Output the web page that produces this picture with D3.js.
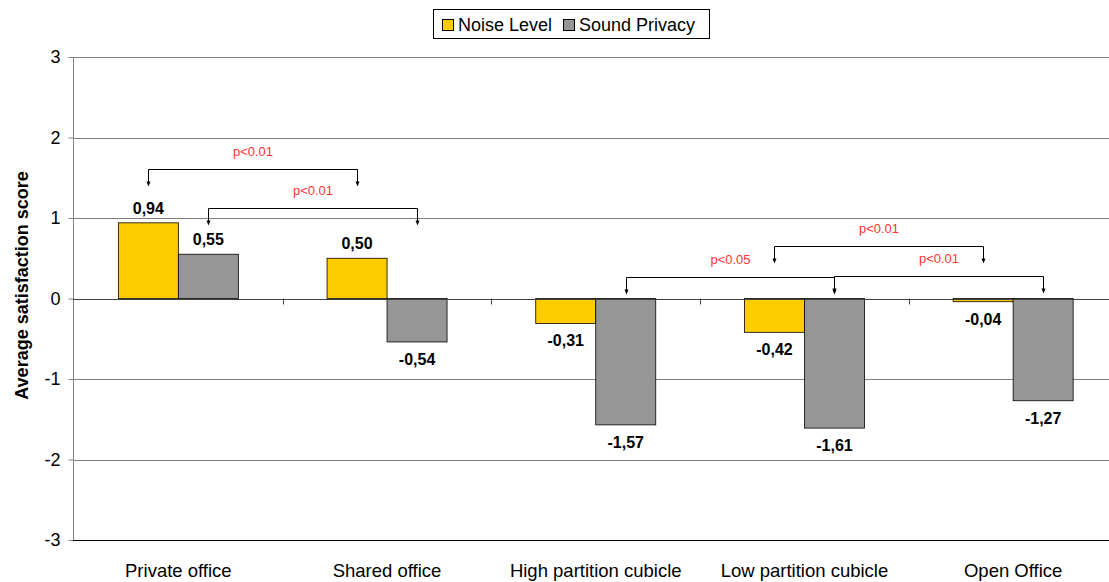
<!DOCTYPE html>
<html>
<head>
<meta charset="utf-8">
<script src="https://cdn.jsdelivr.net/npm/d3@7"></script>
<style>
  body { margin: 0; background: #fff; }
  text { font-family: Arial, "Liberation Sans", sans-serif; }
</style>
</head>
<body>
<div id="chart"></div>
<script>
// chart data
var categories = ["Private office", "Shared office", "High partition cubicle", "Low partition cubicle", "Open Office"];
var seriesNames = ["Noise Level", "Sound Privacy"];
var noiseLevel = [0.94, 0.50, -0.31, -0.42, -0.04];
var soundPrivacy = [0.55, -0.54, -1.57, -1.61, -1.27];
var yTicks = [3, 2, 1, 0, -1, -2, -3];
// significance brackets: [category, series] pairs, bracket height (score units), label
var brackets = [
    { from: [0, 0], to: [1, 0], level: 1.61, label: "p<0.01" },
    { from: [0, 1], to: [1, 1], level: 1.12, label: "p<0.01" },
    { from: [2, 1], to: [3, 1], level: 0.27, label: "p<0.05" },
    { from: [3, 0], to: [4, 0], level: 0.65, label: "p<0.01" },
    { from: [3, 1], to: [4, 1], level: 0.28, label: "p<0.01" }
];

(function () {
    var width = 1109,
        height = 582;
    var colors = ["#ffcc00", "#969696"];
    var left = 73, right = 1117, top = 57, bottom = 540;

    var svg = d3.select("#chart")
        .append("svg")
        .attr("width", width)
        .attr("height", height);

    var x = d3.scaleBand().domain(categories).range([left + 1, right + 0.5]).paddingInner(0);
    var y = d3.scaleLinear().domain([-3, 3]).range([bottom, top]);
    var barW = 60;
    var inner = d3.scaleBand().domain(seriesNames)
        .range([0, x.bandwidth()])
        .paddingOuter((x.bandwidth() - 2 * barW) / 2 / barW)
        .paddingInner(0);

    var values = [noiseLevel, soundPrivacy];
    var fmt = function (d) { return d3.format(".2f")(d).replace(".", ",").replace("\u2212", "-"); };

    // gridlines
    svg.append("g").selectAll("line")
        .data(yTicks.filter(function (d) { return d > -3; }))
        .enter().append("line")
        .attr("x1", left).attr("x2", right)
        .attr("y1", function (d) { return Math.round(y(d)) + 0.5; })
        .attr("y2", function (d) { return Math.round(y(d)) + 0.5; })
        .attr("stroke", "#808080")
        .attr("stroke-width", 1);

    // y axis
    var yAxis = svg.append("g")
        .attr("transform", "translate(" + (left + 0.5) + ",0)")
        .call(d3.axisLeft(y).tickValues(yTicks).tickSize(5).tickPadding(8)
            .tickFormat(function (d) { return String(d); }));
    yAxis.select(".domain").attr("stroke", "#808080").attr("d", "M0," + top + "V" + bottom);
    yAxis.selectAll(".tick line").attr("stroke", "#808080");
    yAxis.selectAll(".tick text").style("font-size", "18px").attr("fill", "#000");

    // bottom line
    svg.append("line")
        .attr("x1", left).attr("x2", right)
        .attr("y1", Math.round(y(-3)) + 0.5).attr("y2", Math.round(y(-3)) + 0.5)
        .attr("stroke", "#000");

    // category labels
    svg.append("g").selectAll("text")
        .data(categories)
        .enter().append("text")
        .attr("x", function (d) { return x(d) + x.bandwidth() / 2; })
        .attr("y", 577)
        .attr("text-anchor", "middle")
        .style("font-size", "18.5px")
        .text(function (d) { return d; });

    // y title
    svg.append("text")
        .attr("transform", "translate(28," + (y(0) - 13) + ") rotate(-90)")
        .attr("text-anchor", "middle")
        .style("font-size", "18px")
        .style("font-weight", "bold")
        .text("Average satisfaction score");

    // bars
    seriesNames.forEach(function (s, si) {
        var g = svg.append("g");
        g.selectAll("rect")
            .data(values[si])
            .enter().append("rect")
            .attr("x", function (d, i) { return x(categories[i]) + inner(s); })
            .attr("y", function (d) { return y(Math.max(0, d)); })
            .attr("width", inner.bandwidth())
            .attr("height", function (d) { return Math.abs(y(d) - y(0)); })
            .attr("fill", colors[si])
            .attr("stroke", "#000")
            .attr("stroke-width", 0.8);

        g.selectAll("text")
            .data(values[si])
            .enter().append("text")
            .attr("x", function (d, i) { return x(categories[i]) + inner(s) + inner.bandwidth() / 2; })
            .attr("y", function (d) { return d >= 0 ? y(d) - 9 : y(d) + 23; })
            .attr("text-anchor", "middle")
            .style("font-size", "16px")
            .style("font-weight", "bold")
            .text(fmt);
    });

    // zero line on top with category ticks
    svg.append("line")
        .attr("x1", left).attr("x2", right)
        .attr("y1", Math.round(y(0)) + 0.5).attr("y2", Math.round(y(0)) + 0.5)
        .attr("stroke", "#404040");
    svg.append("g").selectAll("line")
        .data(categories.slice(1))
        .enter().append("line")
        .attr("x1", function (d) { return Math.round(x(d)) + 0.5; })
        .attr("x2", function (d) { return Math.round(x(d)) + 0.5; })
        .attr("y1", y(0)).attr("y2", y(0) + 6)
        .attr("stroke", "#404040");

    // brackets
    function barCenter(p) {
        return x(categories[p[0]]) + inner(seriesNames[p[1]]) + inner.bandwidth() / 2;
    }
    var bg = svg.append("g");
    brackets.forEach(function (b) {
        var x1 = Math.round(barCenter(b.from)) + 0.5, x2 = Math.round(barCenter(b.to)) + 0.5;
        var yl = Math.round(y(b.level)) + 0.5;
        var drop = 16;
        bg.append("path")
            .attr("d", "M" + x1 + "," + (yl + drop - 3) + "V" + yl + "H" + x2 + "V" + (yl + drop - 3))
            .attr("fill", "none")
            .attr("stroke", "#000")
            .attr("stroke-width", 1);
        [x1, x2].forEach(function (xx) {
            bg.append("path")
                .attr("d", "M" + (xx - 2) + "," + (yl + drop - 4) + "L" + (xx + 2) + "," + (yl + drop - 4) + "L" + xx + "," + (yl + drop + 1) + "Z")
                .attr("fill", "#000");
        });
        bg.append("text")
            .attr("x", (x1 + x2) / 2)
            .attr("y", yl - 14)
            .attr("text-anchor", "middle")
            .attr("fill", "#ff3333")
            .style("font-size", "13px")
            .text(b.label);
    });

    // legend
    var lg = svg.append("g");
    lg.append("rect")
        .attr("x", 433.5).attr("y", 9.5)
        .attr("width", 276).attr("height", 29)
        .attr("fill", "#fff").attr("stroke", "#000");
    var legendX = [442, 563];
    seriesNames.forEach(function (s, i) {
        lg.append("rect")
            .attr("x", legendX[i] + 0.5).attr("y", 19.5)
            .attr("width", 11).attr("height", 11)
            .attr("fill", colors[i]).attr("stroke", "#000");
        lg.append("text")
            .attr("x", legendX[i] + 16)
            .attr("y", 31)
            .style("font-size", "18px")
            .text(s);
    });
})();
</script>
</body>
</html>
